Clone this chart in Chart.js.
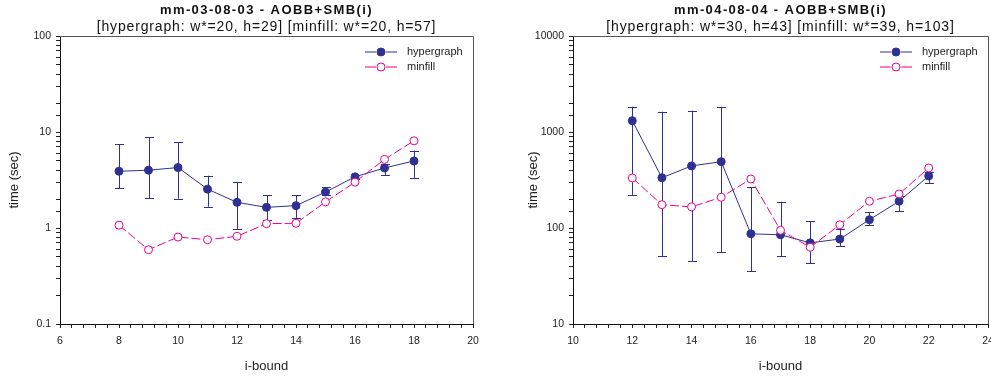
<!DOCTYPE html>
<html>
<head>
<meta charset="utf-8">
<title>AOBB+SMB(i) timings</title>
<script src="https://cdn.jsdelivr.net/npm/chart.js@4.4.0/dist/chart.umd.min.js"></script>
<style>
  html, body { margin: 0; padding: 0; background: #fff; }
  .panel { position: absolute; top: 0; height: 377px; overflow: hidden; }
  .panel canvas { display: block; }
  #left { left: 0; width: 495px; }
  #right { left: 495px; width: 496px; }
</style>
</head>
<body>
<div class="panel" id="left"><canvas id="chartA" width="495" height="377"></canvas></div>
<div class="panel" id="right"><canvas id="chartB" width="520" height="377"></canvas></div>
<script>
// --- data (time in seconds, log scale) ---

// mm-03-08-03
const iBoundA = [8, 9, 10, 11, 12, 13, 14, 15, 16, 17, 18];
const hyperA = [3.9, 4.0, 4.26, 2.54, 1.85, 1.64, 1.71, 2.37, 3.41, 4.22, 4.99];
const hyperLowA = [2.58, 2.04, 2.02, 1.67, 0.98, 1.2, 1.26, 2.19, 3.25, 3.55, 3.33];
const hyperHighA = [7.5, 8.8, 7.8, 3.5, 3.03, 2.19, 2.19, 2.67, 3.6, 4.68, 6.4];
const minfillA = [1.07, 0.594, 0.805, 0.755, 0.82, 1.11, 1.12, 1.87, 3.0, 5.18, 8.1];

// mm-04-08-04
const iBoundB = [12, 13, 14, 15, 16, 17, 18, 19, 20, 21, 22];
const hyperB = [1312, 334, 443, 491, 87, 85, 70, 76.7, 122, 190, 348];
const hyperLowB = [222, 50.7, 45, 56, 35.4, 51, 42.8, 65, 107, 149, 292];
const hyperHighB = [1835, 1626, 1667, 1835, 265, 188, 118, 98, 147, 214, 386];
const minfillB = [332, 175, 166, 209, 324, 94.6, 63, 108, 190, 226, 422];

const NAVY = '#2e3192';
const PINK = '#ec008c';
const FONT = '"Liberation Sans", Arial, sans-serif';

function pts(xs, ys) {
    return xs.map(function(x, i) { return { x: x, y: ys[i] }; });
}

function isDecade(v) {
    const l = Math.log10(v);
    return Math.abs(l - Math.round(l)) < 1e-6;
}

// error bars, frame, in-plot legend and the two title lines
const panelDecor = {
    id: 'panelDecor',
    beforeDatasetsDraw(chart) {
        const ctx = chart.ctx;
        const xs = chart.scales.x, ys = chart.scales.y;
        ctx.save();
        chart.data.datasets.forEach(function(ds) {
            if (!ds.errLow) return;
            ctx.strokeStyle = ds.borderColor;
            ctx.lineWidth = 1;
            ds.data.forEach(function(p, i) {
                const px = Math.round(xs.getPixelForValue(p.x)) + 0.5;
                const lo = ys.getPixelForValue(ds.errLow[i]);
                const hi = ys.getPixelForValue(ds.errHigh[i]);
                ctx.beginPath();
                ctx.moveTo(px, lo); ctx.lineTo(px, hi);
                ctx.moveTo(px - 4.5, Math.round(lo) + 0.5); ctx.lineTo(px + 4.5, Math.round(lo) + 0.5);
                ctx.moveTo(px - 4.5, Math.round(hi) + 0.5); ctx.lineTo(px + 4.5, Math.round(hi) + 0.5);
                ctx.stroke();
            });
        });
        ctx.restore();
    },
    afterDatasetsDraw(chart) {
        const ctx = chart.ctx;
        const a = chart.chartArea;
        ctx.save();
        // top and right frame
        ctx.strokeStyle = '#555';
        ctx.lineWidth = 1;
        ctx.beginPath();
        ctx.moveTo(a.left, Math.round(a.top) + 0.5);
        ctx.lineTo(Math.round(a.right) + 0.5, Math.round(a.top) + 0.5);
        ctx.lineTo(Math.round(a.right) + 0.5, a.bottom);
        ctx.stroke();

        // legend
        const x0 = a.right - 108, x1 = a.right - 76, xm = (x0 + x1) / 2;
        ctx.font = '11px ' + FONT;
        ctx.textBaseline = 'middle';
        ctx.textAlign = 'left';
        chart.data.datasets.forEach(function(ds, i) {
            const y = a.top + 16 + i * 15;
            ctx.strokeStyle = ds.borderColor;
            ctx.lineWidth = 1;
            ctx.beginPath();
            ctx.moveTo(x0, y); ctx.lineTo(xm - 5, y);
            ctx.moveTo(xm + 5, y); ctx.lineTo(x1, y);
            ctx.stroke();
            ctx.beginPath();
            ctx.arc(xm, y, ds.pointRadius, 0, Math.PI * 2);
            ctx.fillStyle = ds.pointBackgroundColor;
            ctx.fill();
            ctx.strokeStyle = ds.pointBorderColor;
            ctx.stroke();
            ctx.fillStyle = '#222';
            ctx.fillText(ds.label, a.right - 66, y);
        });
        ctx.restore();
    },
    afterDraw(chart, args, opts) {
        const ctx = chart.ctx;
        const a = chart.chartArea;
        const cx = (a.left + a.right) / 2;
        ctx.save();
        ctx.fillStyle = '#111';
        ctx.textAlign = 'center';
        ctx.textBaseline = 'middle';
        ctx.font = 'bold 13px ' + FONT;
        ctx.letterSpacing = '1.4px';
        ctx.fillText(opts.title, cx, 10.5);
        ctx.font = '14px ' + FONT;
        ctx.letterSpacing = '0.85px';
        ctx.fillText(opts.subtitle, cx, 27.5);
        ctx.restore();
    }
};

function makeChart(id, p) {
    return new Chart(document.getElementById(id), {
        type: 'line',
        data: {
            datasets: [{
                label: 'hypergraph',
                data: pts(p.xs, p.hyper),
                errLow: p.low,
                errHigh: p.high,
                borderColor: NAVY,
                backgroundColor: NAVY,
                borderWidth: 1,
                pointRadius: 4,
                pointBackgroundColor: NAVY,
                pointBorderColor: NAVY,
                pointBorderWidth: 1,
                order: 1
            }, {
                label: 'minfill',
                data: pts(p.xs, p.minfill),
                borderColor: PINK,
                backgroundColor: '#fff',
                borderWidth: 1,
                borderDash: [9, 3],
                pointRadius: 4,
                pointBackgroundColor: '#fff',
                pointBorderColor: PINK,
                pointBorderWidth: 1,
                order: 0
            }]
        },
        options: {
            responsive: false,
            animation: false,
            events: [],
            layout: { padding: { top: 36, left: p.padLeft, right: p.padRight, bottom: 0 } },
            scales: {
                x: {
                    type: 'linear',
                    min: p.xMin,
                    max: p.xMax,
                    afterFit: function(s) { s.height = 53; },
                    border: { display: true, color: '#111', width: 1 },
                    grid: { drawOnChartArea: false, drawTicks: true, tickLength: 4, color: '#222' },
                    ticks: {
                        stepSize: 0.4,
                        autoSkip: false,
                        maxRotation: 0,
                        padding: 7,
                        color: '#222',
                        font: { family: FONT, size: 10.5 },
                        callback: function(v) {
                            const r = Math.round(v);
                            return (Math.abs(v - r) < 1e-6 && r % 2 === 0) ? String(r) : '';
                        }
                    },
                    title: {
                        display: true,
                        text: 'i-bound',
                        color: '#222',
                        font: { family: FONT, size: 13 },
                        padding: { top: 4, bottom: 3 }
                    }
                },
                y: {
                    type: 'logarithmic',
                    min: p.yMin,
                    max: p.yMax,
                    afterFit: function(s) { s.width = p.yWidth; },
                    border: { display: true, color: '#111', width: 1 },
                    grid: { drawOnChartArea: false, drawTicks: true, tickLength: 4, color: '#222' },
                    ticks: {
                        autoSkip: false,
                        padding: 5,
                        color: '#222',
                        font: { family: FONT, size: 10.5 },
                        callback: function(v) {
                            return isDecade(v) ? String(+v.toPrecision(6)) : '';
                        }
                    },
                    title: {
                        display: true,
                        text: 'time (sec)',
                        color: '#222',
                        font: { family: FONT, size: 13 },
                        padding: { top: 7, bottom: 0 }
                    }
                }
            },
            plugins: {
                legend: { display: false },
                tooltip: { enabled: false },
                panelDecor: { title: p.title, subtitle: p.subtitle }
            }
        },
        plugins: [panelDecor]
    });
}

makeChart('chartA', {
    title: 'mm-03-08-03 - AOBB+SMB(i)',
    subtitle: '[hypergraph: w*=20, h=29] [minfill: w*=20, h=57]',
    xs: iBoundA, hyper: hyperA, low: hyperLowA, high: hyperHighA, minfill: minfillA,
    xMin: 6, xMax: 20, yMin: 0.1, yMax: 100,
    padLeft: 0, padRight: 22, yWidth: 60
});

makeChart('chartB', {
    title: 'mm-04-08-04 - AOBB+SMB(i)',
    subtitle: '[hypergraph: w*=30, h=43] [minfill: w*=39, h=103]',
    xs: iBoundB, hyper: hyperB, low: hyperLowB, high: hyperHighB, minfill: minfillB,
    xMin: 10, xMax: 24, yMin: 10, yMax: 10000,
    padLeft: 24, padRight: 27, yWidth: 54
});
</script>
</body>
</html>
